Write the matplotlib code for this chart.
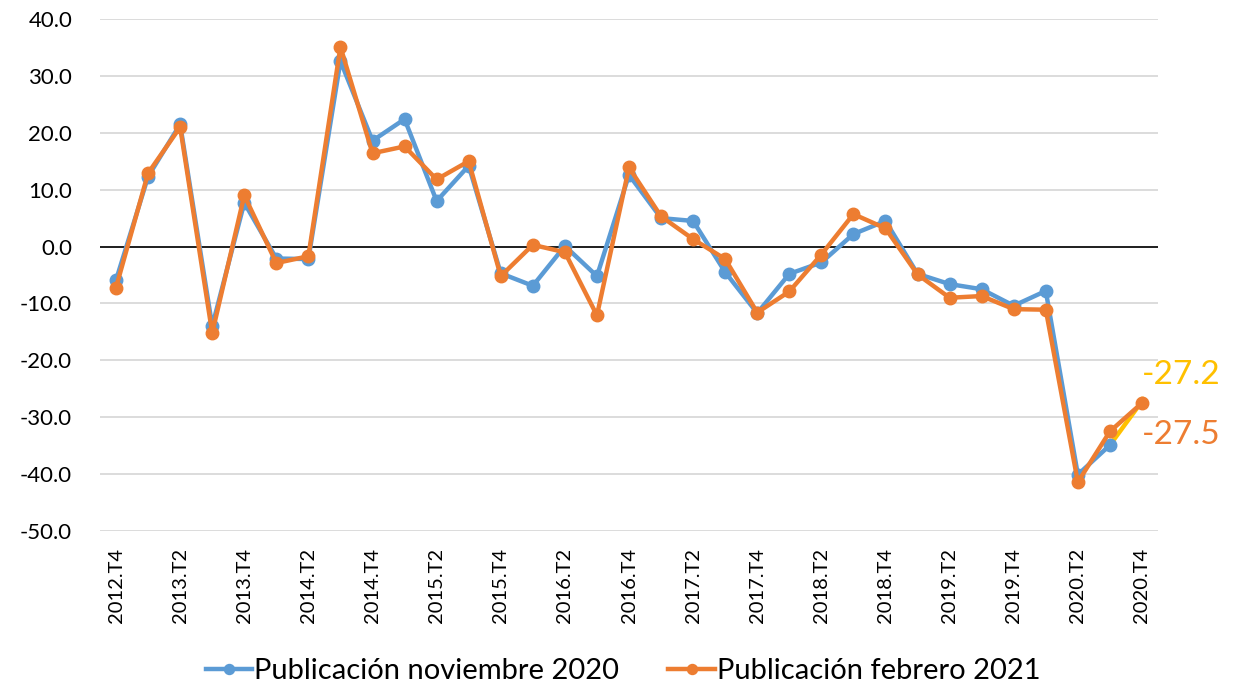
import matplotlib
matplotlib.use("Agg")
import matplotlib.pyplot as plt
import numpy as np

plt.rcParams['font.family'] = ['Lato', 'DejaVu Sans']

# Quarterly periods 2012.T4 .. 2020.T4
periods = ["2012.T4"] + [f"{y}.T{q}" for y in range(2013, 2021) for q in range(1, 5)]

pub_nov_2020 = [-5.9, 12.3, 21.5, -14.0, 7.7, -2.1, -2.2, 32.6, 18.6,
                22.4, 8.0, 14.2, -4.7, -6.9, 0.1, -5.2, 12.6, 5.0,
                4.5, -4.5, -11.7, -4.8, -2.8, 2.2, 4.5, -4.8, -6.6,
                -7.5, -10.4, -7.8, -40.1, -34.9, None]

pub_feb_2021 = [-7.2, 12.9, 21.0, -15.2, 9.0, -2.9, -1.7, 35.1, 16.4,
                17.6, 11.8, 15.0, -5.2, 0.3, -1.0, -12.1, 13.9, 5.3,
                1.3, -2.2, -11.6, -7.9, -1.4, 5.7, 3.2, -4.9, -9.0,
                -8.7, -11.0, -11.1, -41.4, -32.5, -27.5]

# Extension of the November series to the last quarter
nov_extension = [None] * 31 + [-34.9, -27.2]

blue = "#5B9BD5"
orange = "#ED7D31"
yellow = "#FFC000"

def arr(vals):
    return np.array([np.nan if v is None else v for v in vals], dtype=float)

x = np.arange(len(periods))

fig = plt.figure(figsize=(12.46, 6.89), dpi=100)
ax = fig.add_axes([100 / 1246, 1 - 531 / 689, 1058 / 1246, 512 / 689])

ax.set_ylim(-50, 40)
ax.set_xlim(-0.5, len(periods) - 0.5)
ax.set_yticks(np.arange(-50, 41, 10))
ax.set_yticklabels([f"{v:.1f}" for v in np.arange(-50, 41, 10)])
ax.yaxis.grid(True, color="#D9D9D9", linewidth=1.3)
ax.set_axisbelow(True)
ax.axhline(0, color="black", linewidth=1.2, zorder=1)
for s in ax.spines.values():
    s.set_visible(False)
ax.tick_params(axis="both", length=0, colors="black")
ax.tick_params(axis="y", pad=20, labelsize=16)

ax.set_xticks(x[::2])
ax.set_xticklabels(periods[::2], rotation=90, fontsize=14.5)
ax.tick_params(axis="x", pad=12)

ax.plot(x, arr(nov_extension), color=yellow, lw=3.2, marker="o", ms=6, zorder=2)
l1, = ax.plot(x, arr(pub_nov_2020), color=blue, lw=3.2, marker="o", ms=9,
              zorder=3, label="Publicación noviembre 2020")
l2, = ax.plot(x, arr(pub_feb_2021), color=orange, lw=3.2, marker="o", ms=9,
              zorder=4, label="Publicación febrero 2021")

ax.annotate(f"{nov_extension[-1]:.1f}", (x[-1], nov_extension[-1]),
            xytext=(0, 8), textcoords="offset points", color=yellow,
            fontsize=24, ha="left", va="bottom", annotation_clip=False)
ax.annotate(f"{pub_feb_2021[-1]:.1f}", (x[-1], pub_feb_2021[-1]),
            xytext=(0, -12), textcoords="offset points", color=orange,
            fontsize=24, ha="left", va="top", annotation_clip=False)

fig.legend(handles=[l1, l2], loc="center", bbox_to_anchor=(0.5, 1 - 671 / 689),
           ncol=2, frameon=False, fontsize=21, handlelength=1.6,
           handletextpad=0.05, columnspacing=1.7, markerscale=0.8)

fig.savefig("out.png", dpi=100)
